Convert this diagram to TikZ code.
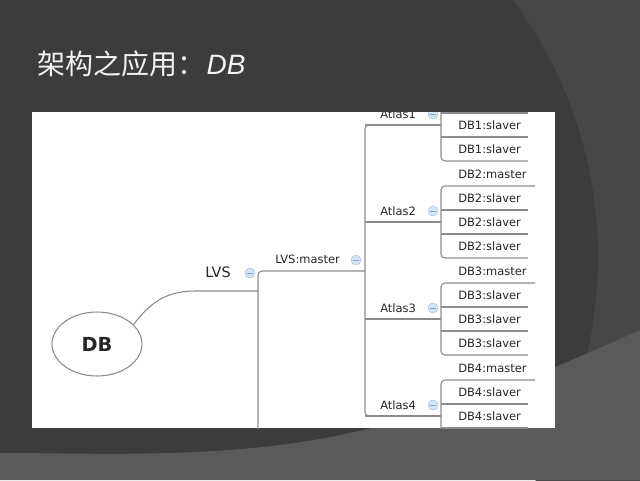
\documentclass[tikz,border=0pt]{standalone}
\usepackage{fontspec}
\setmainfont{DejaVu Sans}
\newfontfamily\cjk{Noto Sans CJK SC}
\newfontfamily\titlelatin{Liberation Sans}
\usetikzlibrary{shapes.geometric}
\definecolor{bgbase}{HTML}{3C3C3C}
\definecolor{bgright}{HTML}{474747}
\definecolor{bglow}{HTML}{5A5A5A}
\definecolor{titlec}{HTML}{F2F2F2}
\definecolor{linec}{HTML}{8C8C8C}
\definecolor{textc}{HTML}{262626}
\definecolor{minusfill}{HTML}{D5E3F4}
\definecolor{minusdraw}{HTML}{A9C3E4}
\definecolor{minusbar}{HTML}{7FA3D3}
\tikzset{
  branch/.style={draw=linec, line width=0.8pt},
  lbl/.style={anchor=base west, inner sep=0pt, text=textc, font=\fontsize{8.6}{10}\selectfont},
  toplbl/.style={anchor=base west, inner sep=0pt, text=textc, font=\fontsize{10.8}{12}\selectfont},
  minusc/.style={circle, inner sep=0pt, minimum size=7.5pt, fill=minusfill, draw=minusdraw, line width=0.4pt,
    path picture={\draw[minusbar, line width=0.7pt] ([xshift=-2pt]path picture bounding box.center) -- ([xshift=2pt]path picture bounding box.center);}},
  rootnode/.style={ellipse, draw=linec, line width=0.8pt, minimum width=67.5pt, minimum height=48pt, inner sep=0pt,
    text=textc, font=\fontsize{14.5}{16}\selectfont\bfseries}
}
\begin{document}
\begin{tikzpicture}[x=0.75pt,y=-0.75pt]
\useasboundingbox (0,0) rectangle (640,480);
% background
\fill[bgbase] (0,0) rectangle (640,480);
\begin{scope}
  \clip (0,0) rectangle (640,480);
  \fill[bgright, even odd rule] (-500,-500) rectangle (1200,1000) (167,257) circle[radius=431];
  \fill[bglow] (640,330) .. controls (520,385) and (400,430) .. (280,445)
    .. controls (180,457.5) and (80,453) .. (0,453) -- (0,480) -- (640,480) -- cycle;
\end{scope}
% title
\node[anchor=base west, inner sep=0pt, text=titlec] (title) at (37,74)
  {\fontsize{21}{24}\selectfont\cjk 架构之应用：\titlelatin\itshape\hspace{1pt}DB};
% panel
\fill[white] (32,112) rectangle (555,428);
\begin{scope}
  \clip (32,112) rectangle (555,428);
  % root
  \node[rootnode] (db) at (97,344) {DB};
  \coordinate (lvsend) at (195,291);
  \coordinate (lvsj) at (258,291);
  \draw[branch] (db.28) .. controls (149,304) and (165,291) .. (lvsend) -- (lvsj);
  \node[toplbl] (lvs) at (205,277) {LVS};
  \node[minusc] (lvsm) at (250,273) {};
  % LVS children trunk
  \coordinate (lvsbot) at (258,440);
  \coordinate (lmj) at (365,271);
  \draw[branch, rounded corners=3pt] (lvsbot) -- (258,271) -- (lmj);
  \node[lbl] (lvsmaster) at (275,263) {LVS:master};
  \node[minusc] (lvsmm) at (356,260) {};
  % atlas trunk
  \draw[branch, rounded corners=3pt] (441,125) -- (365,125) -- (365,416) -- (441,416);
  \foreach \k/\Y in {1/125,2/222,3/319,4/416} {
    \coordinate (aj\k) at (441,\Y);
    \draw[branch] (365,\Y) -- (aj\k);
    \node[lbl] (atlas\k) at (380,{\Y-7}) {Atlas\k};
    \node[minusc] (atlasm\k) at (433,{\Y-11}) {};
    \draw[branch, rounded corners=3pt] (535,{\Y-36}) -- (441,{\Y-36}) -- (441,{\Y+36}) -- (528,{\Y+36});
    \draw[branch] (441,{\Y-12}) -- (528,{\Y-12});
    \draw[branch] (441,{\Y+12}) -- (528,{\Y+12});
    \node[lbl] (m\k) at (458,{\Y-43.5}) {DB\k:master};
    \node[lbl] (sa\k) at (458,{\Y-19.5}) {DB\k:slaver};
    \node[lbl] (sb\k) at (458,{\Y+4.5}) {DB\k:slaver};
    \node[lbl] (sc\k) at (458,{\Y+28.5}) {DB\k:slaver};
  }
\end{scope}
\end{tikzpicture}
\end{document}
